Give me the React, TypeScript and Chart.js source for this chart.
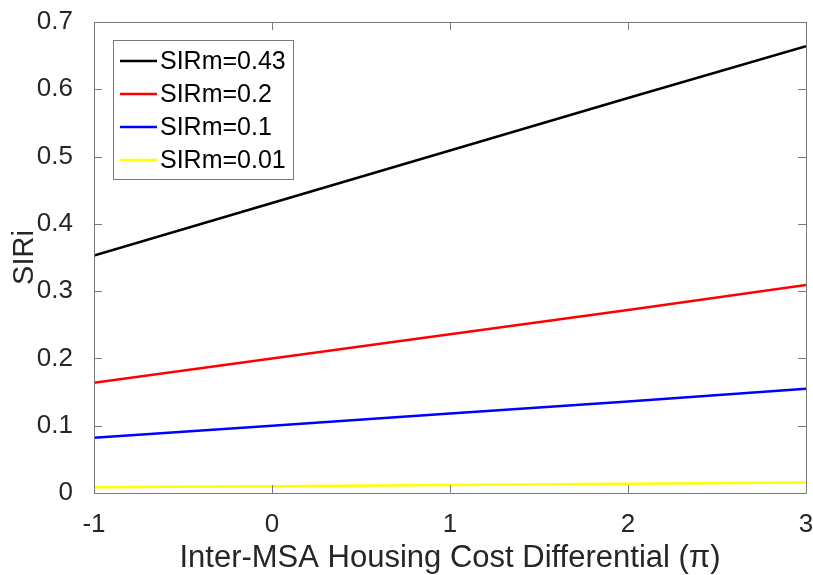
import React, { useEffect, useRef } from "react";
import { Chart, registerables } from "chart.js";

Chart.register(...registerables);

const xValues = [-1, 0, 1, 2, 3];
const seriesLabels = ["SIRm=0.43", "SIRm=0.2", "SIRm=0.1", "SIRm=0.01"];
const seriesBlack = [0.353, 0.431, 0.509, 0.587, 0.664];
const seriesRed = [0.164, 0.2, 0.236, 0.272, 0.309];
const seriesBlue = [0.082, 0.1, 0.118, 0.136, 0.155];
const seriesYellow = [0.0085, 0.01, 0.0118, 0.0136, 0.0155];
const seriesColors = ["#000000", "#ff0000", "#0000ff", "#ffff00"];
const xTicks = [-1, 0, 1, 2, 3];
const yTicks = [0, 0.1, 0.2, 0.3, 0.4, 0.5, 0.6, 0.7];
const xTitle = "Inter-MSA Housing Cost Differential (π)";
const yTitle = "SIRi";

const FONT = "'Liberation Sans', Arial, Helvetica, sans-serif";
const AXIS_COLOR = "#262626";
const BOX_COLOR = "#7a7a7a";

const boxPlugin = {
  id: "matlabBox",
  afterDraw(chart: any) {
    const ctx = chart.ctx;
    const { left, right, top, bottom } = chart.chartArea;
    const xs = chart.scales.x;
    const ys = chart.scales.y;
    ctx.save();
    ctx.strokeStyle = BOX_COLOR;
    ctx.lineWidth = 1;
    ctx.beginPath();
    ctx.rect(Math.round(left) + 0.5, Math.round(top) + 0.5, Math.round(right - left), Math.round(bottom - top));
    ctx.stroke();
    const tl = 8;
    ctx.beginPath();
    xTicks.forEach((v) => {
      const px = Math.round(xs.getPixelForValue(v)) + 0.5;
      ctx.moveTo(px, bottom);
      ctx.lineTo(px, bottom - tl);
      ctx.moveTo(px, top);
      ctx.lineTo(px, top + tl);
    });
    yTicks.forEach((v) => {
      const py = Math.round(ys.getPixelForValue(v)) + 0.5;
      ctx.moveTo(left, py);
      ctx.lineTo(left + tl, py);
      ctx.moveTo(right, py);
      ctx.lineTo(right - tl, py);
    });
    ctx.stroke();

    // legend
    const lx = left + 19;
    const ly = top + 18;
    const lw = 180;
    const lh = 139;
    ctx.fillStyle = "#ffffff";
    ctx.fillRect(lx, ly, lw, lh);
    ctx.strokeStyle = BOX_COLOR;
    ctx.strokeRect(Math.round(lx) + 0.5, Math.round(ly) + 0.5, lw, lh);
    ctx.font = `25px ${FONT}`;
    ctx.textBaseline = "middle";
    ctx.textAlign = "left";
    chart.data.datasets.forEach((ds: any, i: number) => {
      const cy = ly + 21 + i * 33;
      ctx.strokeStyle = ds.borderColor;
      ctx.lineWidth = 2.5;
      ctx.beginPath();
      ctx.moveTo(lx + 7, cy);
      ctx.lineTo(lx + 44, cy);
      ctx.stroke();
      ctx.fillStyle = "#000000";
      ctx.fillText(ds.label, lx + 47, cy + 1);
    });
    ctx.restore();
  },
};

export default function App() {
  const ref = useRef<HTMLCanvasElement | null>(null);
  useEffect(() => {
    document.body.style.margin = "0";
    const series = [seriesBlack, seriesRed, seriesBlue, seriesYellow];
    const chart = new Chart(ref.current as HTMLCanvasElement, {
      type: "line",
      data: {
        datasets: series.map((s, i) => ({
          label: seriesLabels[i],
          data: xValues.map((x, j) => ({ x, y: s[j] })),
          borderColor: seriesColors[i],
          backgroundColor: seriesColors[i],
          borderWidth: 2.5,
          pointRadius: 0,
          fill: false,
          tension: 0,
        })),
      },
      options: {
        responsive: false,
        animation: false,
        layout: { padding: { left: 0, top: 22, right: 7, bottom: 0 } },
        plugins: { legend: { display: false }, tooltip: { enabled: false } },
        scales: {
          x: {
            type: "linear",
            min: -1,
            max: 3,
            grid: { display: false },
            border: { display: false },
            afterBuildTicks: (s: any) => {
              s.ticks = xTicks.map((v) => ({ value: v }));
            },
            afterFit: (s: any) => {
              s.height = 82;
              s.paddingLeft = 0;
              s.paddingRight = 0;
            },
            ticks: {
              color: AXIS_COLOR,
              font: { family: FONT, size: 26 },
              padding: 8,
              maxRotation: 0,
              callback: (v: any) => String(v),
            },
            title: {
              display: true,
              text: xTitle,
              color: AXIS_COLOR,
              font: { family: FONT, size: 31 },
              padding: { top: 0, bottom: -2 },
            },
          },
          y: {
            type: "linear",
            min: 0,
            max: 0.7,
            grid: { display: false },
            border: { display: false },
            afterBuildTicks: (s: any) => {
              s.ticks = yTicks.map((v) => ({ value: v }));
            },
            afterFit: (s: any) => {
              s.width = 94;
              s.paddingTop = 0;
              s.paddingBottom = 0;
            },
            ticks: {
              color: AXIS_COLOR,
              font: { family: FONT, size: 26 },
              padding: 13,
              callback: (v: any) => String(Math.round(Number(v) * 10) / 10),
            },
            title: {
              display: true,
              text: yTitle,
              color: AXIS_COLOR,
              font: { family: FONT, size: 29 },
              padding: { top: 8, bottom: 0 },
            },
          },
        },
      },
      plugins: [boxPlugin],
    });
    return () => chart.destroy();
  }, []);
  return <canvas ref={ref} width={813} height={575} style={{ display: "block" }} />;
}
